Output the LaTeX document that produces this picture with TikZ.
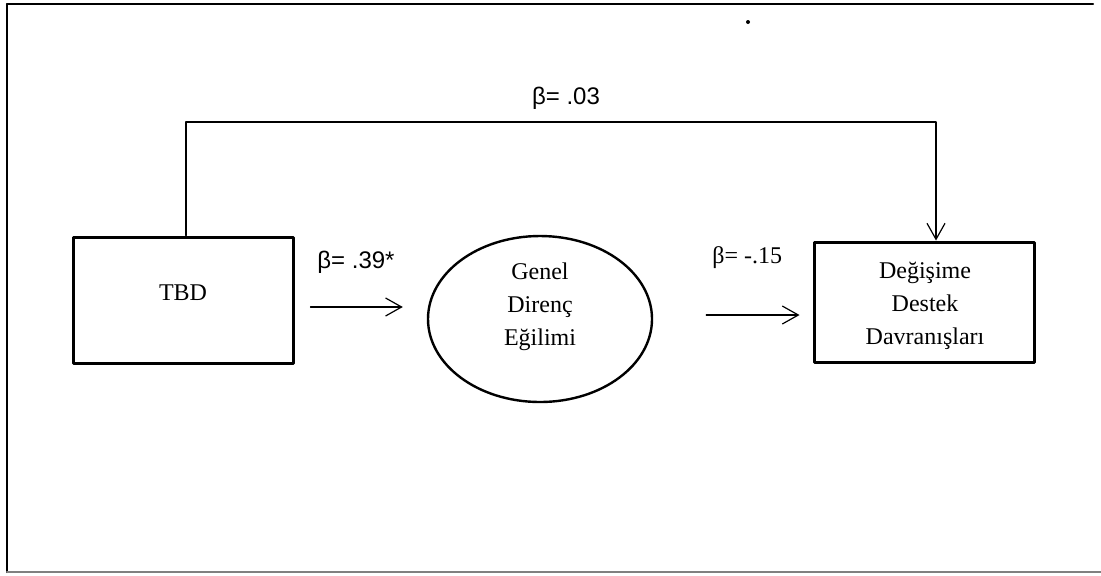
\documentclass[tikz,border=0pt]{standalone}
\usepackage{fontspec}
\setmainfont{Liberation Serif}
\newfontfamily\arialfont{Liberation Sans}
\usetikzlibrary{arrows.meta,shapes.geometric,calc}

\begin{document}
\begin{tikzpicture}[x=0.5pt,y=-0.5pt,line cap=round,line join=round,
    font=\fontsize{12}{16.5}\selectfont,
    box/.style={draw,line width=1.5pt,minimum width=110pt,align=center,inner sep=0pt},
    oval/.style={draw,ellipse,line width=1.2pt,minimum width=112pt,minimum height=83pt,inner sep=0pt},
    arr/.style={line width=0.6pt,-{Straight Barb[length=8pt,width=9pt,line width=0.6pt]}},
    coef/.style={inner sep=0pt}]

    \useasboundingbox (0,0) rectangle (1101,575);

    % frame
    \draw [line width=1.2pt] (7,4) -- (1093,4);
    \draw [line width=1pt] (7,4) -- (7,572);
    \draw [line width=1pt,color=gray] (7,572) -- (1101,572);
    \fill (748,22) circle (1pt);

    % variables
    \node [box,minimum height=63pt] (tbd) at (183,300) {};
    \node (tbdText) at (183,293) {TBD};
    \node [oval] (ell) at (540,319) {};
    \node [align=center] (ellText) at (540,307) {Genel\\Direnç\\Eğilimi};
    \node [box,minimum height=60pt] (rbox) at (924,302) {};
    \node [align=center] (rboxText) at (925,306) {Değişime\\Destek\\Davranışları};

    % paths
    \coordinate (top) at (936,122);
    \draw [arr] ([xshift=1.5pt]tbd.north) |- (top) -- (top |- rbox.north);
    \draw [arr] ($(tbd.east)+(16,7)$) -- ($(ell.west)+(-24,-12)$);
    \draw [arr] ($(ell.east)+(53,-4)$) -- ($(rbox.west)+(-13,13)$);

    % coefficients
    \node [coef] (b1) at (566,98) {\arialfont β= .03};
    \node [coef,anchor=west] (b2) at (317,262) {\arialfont β= .39*};
    \node [coef,anchor=west] (b3) at (712,258) {β= -.15};
\end{tikzpicture}
\end{document}
